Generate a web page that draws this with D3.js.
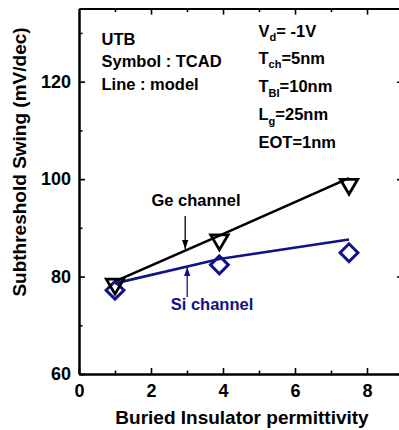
<!DOCTYPE html>
<html>
<head>
<meta charset="utf-8">
<script src="https://cdn.jsdelivr.net/npm/d3@7"></script>
<style>
  html, body { margin: 0; padding: 0; background: #fff; }
  svg { display: block; font-family: "Liberation Sans", Arial, sans-serif; font-weight: bold; }
</style>
</head>
<body>
<svg id="chart" width="399" height="430"></svg>
<script>
// Buried insulator permittivity values (air, SiO2, Si3N4)
const permittivity = [1, 3.9, 7.5];
// TCAD simulation points (symbols)
const geTcad = [77.9, 87.0, 98.4];
const siTcad = [77.2, 82.4, 84.9];
// Analytical model curves (lines)
const geModel = [79.0, 88.4, 100.2];
const siModel = [78.6, 83.6, 87.6];
// Axis ticks
const xMajor = [0, 2, 4, 6, 8];
const xMinor = [1, 3, 5, 7];
const yMajor = [60, 80, 100, 120];
const yMinor = [70, 90, 110, 130];
// Annotation position for the channel arrows
const arrowX = 2.95;

const navy = "#121288";
const svg = d3.select("#chart");

const x = d3.scaleLinear().domain([0, 9]).range([79, 403]);
const y = d3.scaleLinear().domain([60, 135]).range([374, 8.6]);

function styleAxis(g) {
  g.selectAll("path.domain").attr("stroke", "#000").attr("stroke-width", 2);
  g.selectAll(".tick line").attr("stroke", "#000").attr("stroke-width", 1.6);
  g.selectAll(".tick text").attr("fill", "#000").attr("font-size", 18).attr("font-weight", "bold")
    .attr("font-family", "Liberation Sans, Arial, sans-serif");
}

// Bottom axis (ticks pointing inward)
svg.append("g").attr("transform", `translate(0,${y(60)})`)
  .call(d3.axisBottom(x).tickValues(xMajor).tickFormat(d3.format("d")).tickSize(-6).tickSizeOuter(0).tickPadding(10))
  .call(styleAxis);
svg.append("g").attr("transform", `translate(0,${y(60)})`)
  .call(d3.axisBottom(x).tickValues(xMinor).tickFormat("").tickSize(-3.5).tickSizeOuter(0))
  .call(styleAxis);

// Top axis
svg.append("g").attr("transform", `translate(0,${y(135)})`)
  .call(d3.axisTop(x).tickValues(xMajor.filter(d => d > 0)).tickFormat("").tickSize(-6).tickSizeOuter(0))
  .call(styleAxis);
svg.append("g").attr("transform", `translate(0,${y(135)})`)
  .call(d3.axisTop(x).tickValues(xMinor).tickFormat("").tickSize(-3.5).tickSizeOuter(0))
  .call(styleAxis);

// Left axis
svg.append("g").attr("transform", `translate(${x(0)},0)`)
  .call(d3.axisLeft(y).tickValues(yMajor).tickSize(-6).tickSizeOuter(0).tickPadding(8))
  .call(styleAxis);
svg.append("g").attr("transform", `translate(${x(0)},0)`)
  .call(d3.axisLeft(y).tickValues(yMinor).tickFormat("").tickSize(-3.5).tickSizeOuter(0))
  .call(styleAxis);

// Right axis (frame edge)
svg.append("g").attr("transform", `translate(${x(9)},0)`)
  .call(d3.axisRight(y).tickValues(yMajor).tickFormat("").tickSize(-6).tickSizeOuter(0))
  .call(styleAxis);

// Axis titles
svg.append("text")
  .attr("x", 242).attr("y", 424)
  .attr("text-anchor", "middle").attr("font-size", 19)
  .text("Buried Insulator permittivity");
svg.append("text")
  .attr("transform", "translate(26,162) rotate(-90)")
  .attr("text-anchor", "middle").attr("font-size", 19)
  .text("Subthreshold Swing (mV/dec)");

// Model lines
const line = d3.line().x(d => x(d[0])).y(d => y(d[1]));
svg.append("path").datum(d3.zip(permittivity, geModel))
  .attr("d", line).attr("fill", "none").attr("stroke", "#000").attr("stroke-width", 2.6);
svg.append("path").datum(d3.zip(permittivity, siModel))
  .attr("d", line).attr("fill", "none").attr("stroke", navy).attr("stroke-width", 2.6);

// TCAD symbols
const tri = "M-8.7,-7.6L8.7,-7.6L0,7.3Z";
const diamond = "M0,-8.9L8.9,0L0,8.9L-8.9,0Z";
svg.append("g").selectAll("path").data(d3.zip(permittivity, siTcad)).join("path")
  .attr("transform", d => `translate(${x(d[0])},${y(d[1])})`)
  .attr("d", diamond).attr("fill", "none").attr("stroke", navy).attr("stroke-width", 3)
  .attr("stroke-linejoin", "miter");
svg.append("g").selectAll("path").data(d3.zip(permittivity, geTcad)).join("path")
  .attr("transform", d => `translate(${x(d[0])},${y(d[1])})`)
  .attr("d", tri).attr("fill", "none").attr("stroke", "#000").attr("stroke-width", 2.8)
  .attr("stroke-linejoin", "miter");

// Channel labels with arrows
const defs = svg.append("defs");
function marker(id, color) {
  defs.append("marker").attr("id", id)
    .attr("viewBox", "0 0 10 10").attr("refX", 10).attr("refY", 5)
    .attr("markerWidth", 9).attr("markerHeight", 9).attr("markerUnits", "userSpaceOnUse")
    .attr("orient", "auto")
    .append("path").attr("d", "M0,1.5L10,5L0,8.5Z").attr("fill", color);
}
marker("headBlack", "#000");
marker("headNavy", navy);

svg.append("text").attr("x", 196).attr("y", 206).attr("text-anchor", "middle")
  .attr("font-size", 16.5).attr("fill", "#000").text("Ge channel");
svg.append("line")
  .attr("x1", x(arrowX)).attr("x2", x(arrowX)).attr("y1", 216).attr("y2", 249)
  .attr("stroke", "#000").attr("stroke-width", 1.3).attr("marker-end", "url(#headBlack)");

svg.append("text").attr("x", 212).attr("y", 310).attr("text-anchor", "middle")
  .attr("font-size", 16.5).attr("fill", navy).text("Si channel");
svg.append("line")
  .attr("x1", x(arrowX) + 2).attr("x2", x(arrowX) + 2).attr("y1", 297).attr("y2", 267)
  .attr("stroke", navy).attr("stroke-width", 1.3).attr("marker-end", "url(#headNavy)");

// Legend notes
const notes = svg.append("g").attr("font-size", 16.5).attr("fill", "#000");
notes.append("text").attr("x", 101.5).attr("y", 45).text("UTB");
notes.append("text").attr("x", 101.5).attr("y", 67).text("Symbol : TCAD");
notes.append("text").attr("x", 101.5).attr("y", 89.5).text("Line : model");

// Device parameters, with subscripts
const params = [
  { main: "V", sub: "d", rest: "= -1V", yy: 36.5 },
  { main: "T", sub: "ch", rest: "=5nm", yy: 63.5 },
  { main: "T", sub: "BI", rest: "=10nm", yy: 92 },
  { main: "L", sub: "g", rest: "=25nm", yy: 120 },
  { main: "EOT=1nm", sub: "", rest: "", yy: 147.7 }
];
params.forEach(p => {
  const t = notes.append("text").attr("x", 258.5).attr("y", p.yy);
  t.append("tspan").text(p.main);
  if (p.sub) {
    t.append("tspan").attr("dy", 4.5).attr("font-size", 11).text(p.sub);
    t.append("tspan").attr("dy", -4.5).text(p.rest);
  }
});
</script>
</body>
</html>
